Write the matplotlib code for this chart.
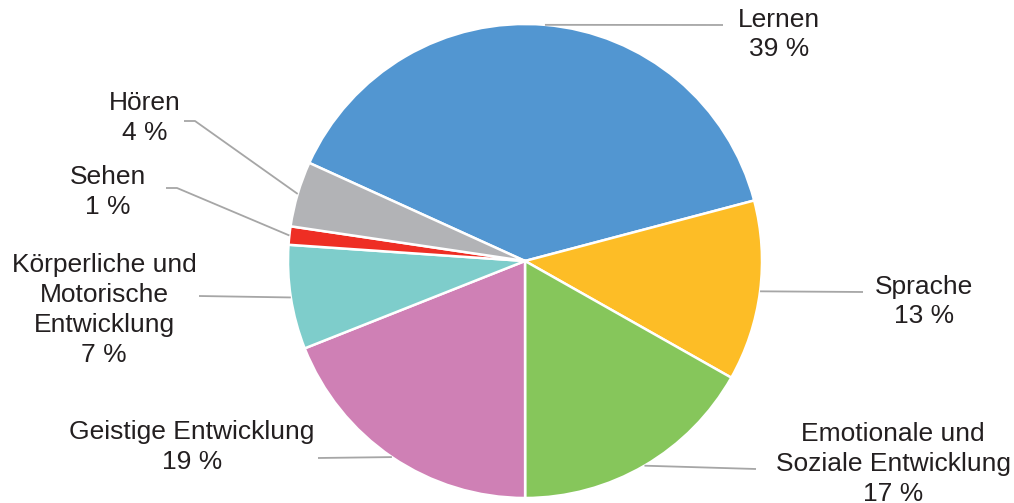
import numpy as np
import matplotlib
matplotlib.use("Agg")
import matplotlib.pyplot as plt

# ---- data ----
categories = ["Lernen", "Sprache", "Emotionale und\nSoziale Entwicklung", "Geistige Entwicklung",
              "Körperliche und\nMotorische\nEntwicklung", "Sehen", "Hören"]
values = [39.1, 12.3, 16.8, 19.0, 7.1, 1.25, 4.45]
pct_labels = ["39 %", "13 %", "17 %", "19 %", "7 %", "1 %", "4 %"]
colors = ["#5296D1", "#FDBD26", "#86C65B", "#CF80B5", "#7ECDCB", "#EE2E24", "#B2B3B6"]

# ---- layout (pixel coordinates, y from top) ----
W, H = 1014, 503
cx, cy, R = 525, 261, 237
start_angle = 155.55
text_pos = [(779, 34.5), (924, 301.5), (893, 464), (192, 447), (104, 310), (108, 192), (145, 118)]
anchor = [(723, 25), (863, 292), (756, 469), (318, 458), (199, 296), (166, 188), (184, 121)]
elbow = [None, None, None, None, None, (177, 188), (195, 121)]

fig = plt.figure(figsize=(W / 100, H / 100), dpi=100)
ax = fig.add_axes([0, 0, 1, 1])
ax.set_xlim(0, W)
ax.set_ylim(0, H)
ax.set_aspect("equal")
ax.axis("off")

wedges, _ = ax.pie(values, colors=colors, startangle=start_angle, counterclock=False,
                   center=(cx, H - cy), radius=R,
                   wedgeprops=dict(edgecolor="white", linewidth=1.8))
ax.set_xlim(0, W)
ax.set_ylim(0, H)

text_color = "#231F20"
line_color = "#A6A6A6"
for w, cat, pct, tp, an, el in zip(wedges, categories, pct_labels, text_pos, anchor, elbow):
    mid = np.deg2rad((w.theta1 + w.theta2) / 2)
    px = cx + R * np.cos(mid)
    py = (H - cy) + R * np.sin(mid)
    xs = [px]
    ys = [py]
    if el is not None:
        xs.append(el[0]); ys.append(H - el[1])
    xs.append(an[0]); ys.append(H - an[1])
    ax.plot(xs, ys, color=line_color, lw=1.3, solid_capstyle="butt", zorder=1)
    ax.text(tp[0], H - tp[1], cat + "\n" + pct, ha="center", va="center",
            multialignment="center", fontsize=19, family="Liberation Sans",
            color=text_color, linespacing=1.3)

fig.savefig("out.png", dpi=100)
